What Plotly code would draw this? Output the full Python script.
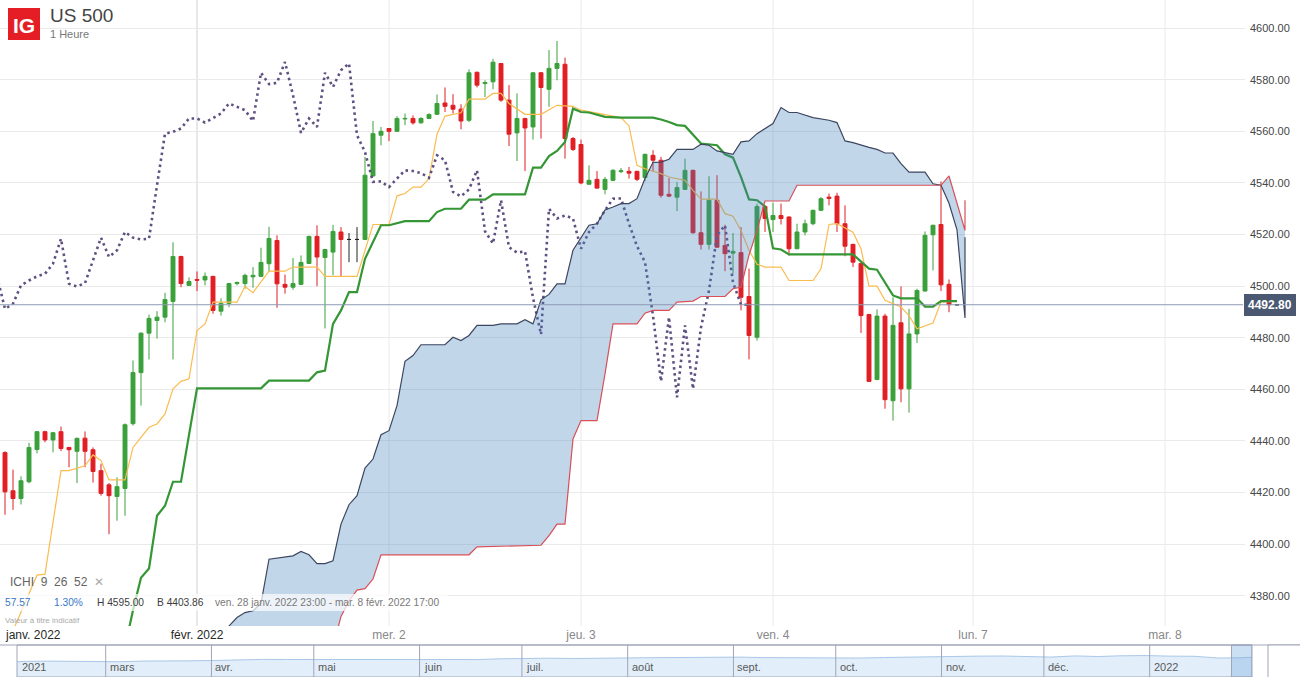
import plotly.graph_objects as go

W, H = 1300, 677

# hourly slots: 0 = lun. 31 janv. 00:00, 24 = mar. 1 févr. 00:00 ...
slots = list(range(120))
opens = [4435.5, 4420.7, 4417.7, 4424.2, 4436.7, 4443.6, 4440.4, 4443.6, 4437.5, 4436.0,
         4441.1, 4436.6, 4428.5, 4423.0, 4418.5, 4421.6, 4446.7, 4466.5, 4481.8, 4486.7,
         4488.0, 4494.1, 4511.5, 4500.3, 4502.6, 4502.4, 4503.8, 4490.3, 4493.3, 4501.0,
         4501.0, 4503.6, 4503.8, 4508.7, 4517.7, 4500.7, 4499.6, 4500.7, 4508.8, 4519.3,
         4511.1, 4513.2, 4521.0, 4518.1, 4518.1, 4518.1, 4542.7, 4558.5, 4561.1, 4560.0,
         4564.8, 4565.0, 4563.3, 4565.0, 4566.6, 4571.0, 4570.1, 4568.6, 4564.3, 4582.9,
         4578.5, 4579.2, 4586.3, 4572.1, 4559.4, 4565.0, 4561.7, 4582.7, 4576.3, 4584.4,
         4586.0, 4557.2, 4554.9, 4539.5, 4541.4, 4537.5, 4541.0, 4544.4, 4544.5, 4544.5,
         4542.1, 4550.7, 4548.8, 4535.6, 4534.5, 4537.5, 4544.9, 4520.7, 4516.2, 4533.3,
         4515.8, 4512.8, 4513.0, 4496.0, 4480.2, 4530.9, 4525.8, 4527.4, 4526.8, 4514.5,
         4521.0, 4524.2, 4529.4, 4534.5, 4534.9, 4524.2, 4516.2, 4508.8, 4489.0, 4463.8,
         4488.4, 4455.6, 4485.8, 4460.2, 4481.5, 4498.1, 4519.9, 4523.9, 4500.7, 4492.8]
highs = [4436.0, 4428.9, 4426.3, 4439.3, 4443.8, 4444.0, 4443.5, 4445.6, 4437.7, 4441.4,
         4443.7, 4437.5, 4431.2, 4423.7, 4425.9, 4446.8, 4471.2, 4482.0, 4489.0, 4490.3,
         4497.4, 4517.0, 4511.8, 4503.4, 4505.7, 4505.3, 4504.0, 4495.3, 4501.2, 4501.8,
         4504.8, 4507.4, 4514.9, 4523.0, 4519.7, 4504.5, 4510.9, 4511.9, 4519.5, 4523.6,
         4514.5, 4523.8, 4522.9, 4520.6, 4522.9, 4550.1, 4564.0, 4561.7, 4561.3, 4565.9,
         4566.9, 4566.2, 4565.5, 4567.0, 4574.3, 4577.0, 4574.4, 4570.5, 4584.0, 4583.1,
         4579.8, 4588.1, 4586.5, 4577.9, 4574.7, 4565.2, 4582.9, 4583.0, 4591.5, 4595.0,
         4588.6, 4557.8, 4556.8, 4546.8, 4544.6, 4542.3, 4545.3, 4545.8, 4546.2, 4544.7,
         4551.3, 4552.7, 4550.1, 4541.9, 4540.4, 4549.4, 4545.1, 4536.7, 4542.6, 4543.0,
         4523.8, 4520.6, 4522.9, 4506.8, 4532.0, 4531.1, 4532.4, 4532.0, 4527.0, 4524.2,
         4525.8, 4529.6, 4534.5, 4535.9, 4536.2, 4531.3, 4516.4, 4509.0, 4489.3, 4491.0,
         4489.3, 4495.7, 4499.9, 4491.2, 4499.0, 4521.2, 4523.8, 4540.6, 4502.6, 4492.8]
lows = [4411.4, 4413.3, 4415.4, 4423.6, 4435.2, 4439.5, 4435.6, 4436.1, 4429.8, 4423.7,
        4429.8, 4423.9, 4418.8, 4403.86, 4409.1, 4411.0, 4446.0, 4453.7, 4471.6, 4479.7,
        4486.0, 4471.6, 4499.6, 4500.1, 4498.1, 4500.3, 4489.3, 4488.6, 4491.9, 4500.3,
        4499.0, 4499.4, 4503.6, 4505.8, 4491.6, 4497.1, 4498.6, 4500.5, 4508.6, 4500.0,
        4483.6, 4504.2, 4503.9, 4509.3, 4509.3, 4518.0, 4542.5, 4554.6, 4556.2, 4559.8,
        4562.4, 4562.6, 4563.0, 4564.8, 4566.4, 4567.5, 4566.9, 4560.8, 4563.6, 4577.0,
        4573.3, 4576.3, 4571.4, 4554.3, 4548.5, 4544.6, 4556.8, 4557.2, 4569.5, 4579.8,
        4549.4, 4552.4, 4539.5, 4539.3, 4537.8, 4535.6, 4540.7, 4543.8, 4541.7, 4540.7,
        4540.7, 4544.6, 4534.3, 4534.5, 4529.1, 4537.3, 4520.3, 4514.2, 4514.2, 4515.0,
        4505.8, 4504.8, 4490.6, 4471.6, 4478.9, 4521.0, 4521.0, 4523.9, 4511.9, 4514.3,
        4519.7, 4523.6, 4529.1, 4531.3, 4521.0, 4511.6, 4507.4, 4481.9, 4462.9, 4463.6,
        4452.5, 4447.9, 4455.0, 4451.0, 4478.0, 4498.0, 4506.1, 4498.1, 4489.9, 4492.8]
closes = [4420.3, 4417.7, 4424.6, 4437.5, 4443.6, 4440.4, 4443.2, 4437.1, 4436.6, 4441.0,
          4436.0, 4428.2, 4419.7, 4418.8, 4422.3, 4446.3, 4466.5, 4481.8, 4487.5, 4488.0,
          4494.8, 4511.5, 4501.0, 4501.8, 4502.3, 4503.8, 4490.6, 4493.3, 4501.0, 4501.4,
          4504.2, 4504.2, 4509.2, 4518.5, 4500.9, 4499.6, 4501.0, 4509.2, 4519.3, 4511.3,
          4514.2, 4521.2, 4518.1, 4518.1, 4518.1, 4543.0, 4559.1, 4560.0, 4560.0, 4565.0,
          4565.0, 4563.3, 4565.0, 4566.5, 4570.8, 4569.7, 4568.6, 4564.0, 4582.7, 4577.9,
          4578.9, 4586.8, 4572.1, 4558.9, 4565.0, 4561.3, 4582.7, 4577.0, 4584.4, 4586.3,
          4557.2, 4553.0, 4540.0, 4541.0, 4538.0, 4541.4, 4544.9, 4544.7, 4543.8, 4541.4,
          4551.1, 4548.8, 4535.2, 4534.9, 4538.2, 4544.9, 4520.7, 4516.2, 4533.3, 4515.1,
          4512.6, 4513.5, 4495.7, 4480.9, 4530.9, 4526.2, 4527.4, 4526.2, 4514.5, 4521.0,
          4524.2, 4529.4, 4533.9, 4534.0, 4524.2, 4515.5, 4509.3, 4488.6, 4463.1, 4488.4,
          4456.0, 4484.8, 4460.2, 4481.5, 4498.3, 4519.7, 4523.6, 4500.5, 4492.8, 4492.8]
doji_slots = [43, 44, 119]
last_price = 4492.80

# Ichimoku 9 26 52 (vertices)
tenkan_x = [0, 1, 4, 5, 7, 8, 10, 11, 12, 13, 15, 16, 18, 19, 20, 21, 22, 23, 24, 25,
            26, 29, 30, 31, 33, 35, 36, 39, 40, 44, 46, 48, 49, 50, 51, 52, 53, 54, 55, 57,
            58, 60, 61, 62, 63, 65, 67, 69, 71, 72, 77, 78, 79, 80, 82, 83, 85, 86, 87, 89,
            90, 91, 92, 93, 94, 95, 97, 98, 101, 102, 103, 104, 106, 107, 108, 109, 110, 112, 113, 114,
            116, 117, 119]
tenkan_y = [4358.0, 4366.5, 4388.0, 4388.4, 4428.5, 4428.5, 4430.4, 4434.6, 4432.4, 4424.9,
            4424.9, 4437.5, 4445.3, 4446.6, 4450.5, 4460.2, 4463.1, 4464.1, 4482.8, 4485.4,
            4493.8, 4493.8, 4499.9, 4497.5, 4505.8, 4505.8, 4507.4, 4507.4, 4503.8, 4503.8,
            4523.9, 4523.9, 4535.0, 4535.9, 4538.4, 4538.4, 4541.7, 4558.9, 4565.9, 4567.2,
            4572.5, 4572.5, 4574.7, 4574.7, 4570.8, 4566.6, 4566.6, 4570.1, 4569.7, 4568.2,
            4565.3, 4562.1, 4546.8, 4545.5, 4543.6, 4542.3, 4541.0, 4537.1, 4533.7, 4533.7,
            4528.1, 4527.1, 4521.6, 4513.9, 4508.5, 4507.4, 4507.4, 4502.2, 4502.2, 4506.7,
            4523.9, 4524.2, 4520.9, 4514.5, 4500.0, 4500.0, 4494.5, 4491.9, 4488.6, 4483.5,
            4485.7, 4493.8, 4494.2]

kijun_x = [15, 16, 17, 18, 19, 20, 21, 22, 24, 32, 33, 38, 39, 40, 41, 42, 43, 44, 45, 47,
           48, 50, 53, 54, 55, 57, 58, 60, 61, 65, 66, 67, 68, 69, 70, 71, 72, 73, 75, 77,
           81, 82, 83, 84, 85, 87, 89, 90, 91, 92, 93, 94, 95, 96, 97, 98, 106, 108, 109, 111,
           112, 114, 115, 116, 117, 119]
kijun_y = [4360.0, 4374.4, 4387.0, 4390.6, 4411.0, 4414.9, 4424.2, 4424.2, 4460.4, 4460.4,
           4463.4, 4463.4, 4466.6, 4467.3, 4485.4, 4490.6, 4497.7, 4497.7, 4510.6, 4523.6,
           4523.6, 4525.2, 4525.2, 4528.7, 4530.0, 4530.0, 4533.5, 4533.5, 4535.6, 4535.6,
           4545.9, 4545.9, 4550.4, 4552.4, 4555.9, 4568.8, 4567.5, 4567.3, 4565.6, 4565.3,
           4565.3, 4564.6, 4563.6, 4562.4, 4562.1, 4555.3, 4554.6, 4551.1, 4549.8, 4542.3,
           4533.6, 4533.3, 4530.9, 4514.7, 4514.2, 4512.3, 4512.3, 4506.8, 4506.4, 4496.4,
           4495.3, 4495.3, 4492.1, 4492.1, 4494.2, 4494.2]

chikou_x = list(range(-1, 94))
chikou_y = [4503.8, 4491.2, 4493.2, 4500.3, 4502.2, 4503.8, 4504.8, 4508.7, 4518.4, 4500.9,
            4499.9, 4501.2, 4510.0, 4518.8, 4511.3, 4513.9, 4521.0, 4518.8, 4518.1, 4518.4,
            4539.1, 4559.1, 4559.8, 4561.1, 4565.0, 4565.0, 4563.4, 4565.0, 4566.9, 4570.8,
            4569.5, 4568.2, 4564.0, 4582.7, 4578.3, 4578.8, 4586.9, 4574.0, 4559.4, 4565.0,
            4561.7, 4582.7, 4577.2, 4583.7, 4586.3, 4558.5, 4552.0, 4540.4, 4540.6, 4538.4,
            4541.7, 4544.9, 4544.6, 4543.8, 4542.0, 4550.7, 4548.8, 4536.5, 4534.8, 4537.5,
            4544.9, 4521.3, 4516.5, 4533.3, 4515.1, 4513.0, 4513.5, 4495.5, 4481.3, 4530.0,
            4526.2, 4527.4, 4526.2, 4514.5, 4521.0, 4524.2, 4529.4, 4533.9, 4534.0, 4524.2,
            4515.5, 4509.3, 4488.6, 4463.1, 4488.0, 4456.9, 4484.8, 4460.2, 4484.0, 4498.3,
            4519.7, 4523.6, 4501.5, 4492.8, 4492.8]

senkou_a_x = [27, 28, 29, 30, 31, 32, 33, 36, 37, 38, 39, 40, 41, 42, 43, 44, 45, 46, 47, 48,
              49, 50, 51, 52, 55, 56, 57, 58, 59, 61, 62, 64, 65, 66, 67, 68, 69, 70, 71, 72,
              73, 74, 75, 76, 77, 78, 79, 80, 81, 82, 83, 84, 86, 87, 88, 89, 90, 91, 92, 93,
              94, 96, 97, 98, 99, 101, 103, 104, 105, 106, 108, 109, 110, 111, 112, 113, 115, 116, 117, 118,
              119, 120, 120]
senkou_a_y = [4362.0, 4368.3, 4371.6, 4373.5, 4374.2, 4377.0, 4394.2, 4395.5, 4397.2, 4395.9,
              4392.5, 4392.5, 4393.6, 4407.8, 4415.3, 4418.8, 4429.5, 4433.0, 4442.4, 4444.0,
              4453.7, 4470.9, 4473.1, 4477.3, 4477.3, 4480.2, 4478.9, 4480.9, 4484.8, 4484.8,
              4485.4, 4485.4, 4487.0, 4485.4, 4494.7, 4496.8, 4500.9, 4500.9, 4513.9, 4519.0,
              4523.6, 4524.2, 4529.5, 4530.7, 4532.0, 4532.0, 4533.9, 4541.7, 4548.0, 4548.1,
              4549.2, 4553.0, 4553.0, 4555.0, 4554.6, 4552.4, 4551.7, 4551.1, 4555.9, 4556.3,
              4559.1, 4563.0, 4569.2, 4567.3, 4567.3, 4565.3, 4564.3, 4563.4, 4556.3, 4555.6,
              4553.8, 4553.0, 4551.6, 4551.6, 4547.5, 4544.2, 4544.2, 4539.7, 4539.1, 4532.1,
              4521.8, 4487.7, 4519.0]

senkou_b_x = [41, 42, 43, 44, 45, 46, 47, 58, 59, 67, 68, 69, 70, 71, 72, 74, 75, 76, 79, 80,
              81, 83, 84, 86, 87, 90, 91, 92, 93, 94, 95, 98, 99, 117, 118, 119, 120, 120]
senkou_b_y = [4360.0, 4372.0, 4378.0, 4382.2, 4382.8, 4386.5, 4395.9, 4395.9, 4399.0, 4399.6,
              4403.3, 4407.8, 4407.8, 4440.8, 4447.9, 4447.9, 4466.0, 4485.4, 4485.4, 4489.5,
              4490.6, 4490.6, 4493.8, 4494.2, 4496.0, 4496.0, 4499.0, 4499.6, 4512.0, 4521.6,
              4533.0, 4533.0, 4539.1, 4539.1, 4542.7, 4532.0, 4521.6, 4533.3]

day_ticks = [24, 48, 72, 96, 121, 145]
day_labels = ["févr. 2022", "mer. 2", "jeu. 3", "ven. 4", "lun. 7", "mar. 8"]

# navigator (daily closes, sampled weekly)
nav_dates = ["2021-02-03", "2021-02-05", "2021-02-12", "2021-02-19", "2021-02-26", "2021-03-05",
             "2021-03-12", "2021-03-19", "2021-03-26", "2021-04-01", "2021-04-09", "2021-04-16",
             "2021-04-23", "2021-04-30", "2021-05-07", "2021-05-14", "2021-05-21", "2021-05-28",
             "2021-06-04", "2021-06-11", "2021-06-18", "2021-06-25", "2021-07-02", "2021-07-09",
             "2021-07-16", "2021-07-23", "2021-07-30", "2021-08-06", "2021-08-13", "2021-08-20",
             "2021-08-27", "2021-09-03", "2021-09-10", "2021-09-17", "2021-09-24", "2021-10-01",
             "2021-10-08", "2021-10-15", "2021-10-22", "2021-10-29", "2021-11-05", "2021-11-12",
             "2021-11-19", "2021-11-26", "2021-12-03", "2021-12-10", "2021-12-17", "2021-12-23",
             "2021-12-31", "2022-01-07", "2022-01-14", "2022-01-21", "2022-01-25", "2022-01-28",
             "2022-01-31"]
nav_values = [3830, 3887, 3934, 3907, 3811, 3841, 3943, 3913, 3975, 4020, 4129, 4185, 4180,
              4181, 4232, 4174, 4156, 4204, 4230, 4247, 4166, 4281, 4352, 4370, 4327, 4412,
              4395, 4437, 4468, 4441, 4509, 4535, 4459, 4433, 4455, 4357, 4391, 4471, 4545,
              4605, 4697, 4682, 4698, 4595, 4538, 4712, 4620, 4725, 4766, 4677, 4662, 4398,
              4356, 4432, 4515]
month_starts = ["2021-03-01", "2021-04-01", "2021-05-01", "2021-06-01", "2021-07-01", "2021-08-01",
                "2021-09-01", "2021-10-01", "2021-11-01", "2021-12-01", "2022-01-01"]
month_labels = ["mars", "avr.", "mai", "juin", "juil.", "août", "sept.", "oct.", "nov.", "déc.", "2022"]

GREEN = "rgb(58,160,58)"
RED = "rgb(224,30,36)"
FONT = "Liberation Sans, Arial, sans-serif"


def px(x):
    return x / W


def py(y):
    return 1 - y / H


keep = [i for i in slots if i not in doji_slots]
fig = go.Figure()

fig.add_trace(go.Candlestick(
    x=[slots[i] for i in keep], open=[opens[i] for i in keep], high=[highs[i] for i in keep],
    low=[lows[i] for i in keep], close=[closes[i] for i in keep],
    increasing=dict(line=dict(color=GREEN, width=1), fillcolor=GREEN),
    decreasing=dict(line=dict(color=RED, width=1), fillcolor=RED),
    whiskerwidth=0, hoverinfo="skip", showlegend=False))
fig.add_trace(go.Candlestick(
    x=doji_slots, open=[opens[i] for i in doji_slots], high=[highs[i] for i in doji_slots],
    low=[lows[i] for i in doji_slots], close=[closes[i] for i in doji_slots],
    increasing=dict(line=dict(color="#222", width=1), fillcolor="#222"),
    decreasing=dict(line=dict(color="#222", width=1), fillcolor="#222"),
    whiskerwidth=0, hoverinfo="skip", showlegend=False))

# lines
fig.add_trace(go.Scatter(x=tenkan_x, y=tenkan_y, mode="lines",
                         line=dict(color="rgb(250,188,80)", width=1.2), hoverinfo="skip"))
fig.add_trace(go.Scatter(x=kijun_x, y=kijun_y, mode="lines",
                         line=dict(color="rgb(52,150,52)", width=2.2), hoverinfo="skip"))
fig.add_trace(go.Scatter(x=chikou_x, y=chikou_y, mode="lines",
                         line=dict(color="rgb(95,80,130)", width=2.6, dash="2.5px,3.5px"),
                         hoverinfo="skip"))
# cloud
fig.add_trace(go.Scatter(x=senkou_a_x, y=senkou_a_y, mode="lines",
                         line=dict(color="rgb(60,70,95)", width=1.2), hoverinfo="skip"))
fig.add_trace(go.Scatter(x=senkou_b_x, y=senkou_b_y, mode="lines", fill="tonexty",
                         fillcolor="rgba(70,130,190,0.33)",
                         line=dict(color="rgb(215,80,90)", width=1.2), hoverinfo="skip"))

# navigator
fig.add_trace(go.Scatter(x=nav_dates, y=nav_values, mode="lines", fill="tozeroy",
                         fillcolor="rgb(226,238,249)", line=dict(color="rgb(170,200,232)", width=1),
                         xaxis="x2", yaxis="y2", hoverinfo="skip"))

shapes = []
main_bottom = py(626)
for t in day_ticks:
    shapes.append(dict(type="line", xref="x", yref="paper", x0=t, x1=t, y0=main_bottom, y1=1,
                       line=dict(color="rgb(208,208,212)" if t == 24 else "rgb(234,234,234)", width=1),
                       layer="below"))
# current price line
shapes.append(dict(type="line", xref="paper", yref="y", x0=0, x1=px(1243), y0=last_price, y1=last_price,
                   line=dict(color="rgb(140,155,180)", width=1)))
# white band behind the info row
shapes.append(dict(type="rect", xref="paper", yref="paper", x0=0, x1=px(448), y0=py(611), y1=py(594),
                   fillcolor="rgba(255,255,255,0.7)", line=dict(width=0)))
# logo
shapes.append(dict(type="rect", xref="paper", yref="paper", x0=px(8), x1=px(40), y0=py(40), y1=py(8),
                   fillcolor="rgb(228,30,36)", line=dict(width=0)))
# navigator frame, month dividers, selection
nav_top = py(645)
shapes.append(dict(type="rect", xref="paper", yref="paper", x0=px(17), x1=px(1252), y0=0, y1=nav_top,
                   line=dict(color="rgb(160,164,184)", width=1)))
shapes.append(dict(type="line", xref="paper", yref="paper", x0=0, x1=1, y0=nav_top, y1=nav_top,
                   line=dict(color="rgb(160,164,184)", width=1)))
for m in month_starts:
    shapes.append(dict(type="line", xref="x2", yref="paper", x0=m, x1=m, y0=0, y1=nav_top,
                       line=dict(color="rgb(160,164,184)", width=1)))
shapes.append(dict(type="rect", xref="x2", yref="paper", x0="2022-01-25", x1="2022-01-31", y0=0, y1=nav_top,
                   fillcolor="rgba(110,165,220,0.35)", line=dict(color="rgb(160,164,184)", width=1)))
shapes.append(dict(type="rect", xref="paper", yref="paper", x0=px(1268), x1=px(1301), y0=-0.01, y1=nav_top,
                   fillcolor="white", line=dict(color="rgb(160,164,184)", width=1)))

ann = []


def text(x, y, s, size, color, anchor="left", bold=False):
    ann.append(dict(x=px(x), y=py(y), xref="paper", yref="paper", text=f"<b>{s}</b>" if bold else s,
                    showarrow=False, xanchor=anchor, yanchor="middle",
                    font=dict(size=size, color=color, family=FONT)))


text(24, 25, "IG", 21, "white", anchor="center", bold=True)
text(48, 16, "US 500", 19, "rgb(68,68,68)")
text(48, 34, "1 Heure", 11, "rgb(120,120,120)")
text(8, 582, "ICHI\u00a0 9\u00a0 26\u00a0 52\u00a0 <span style='color:#aaa'>✕</span>", 12, "rgb(100,100,100)")
text(3, 602, "57.57", 10.2, "rgb(55,120,200)")
text(52, 602, "1.30%", 10.2, "rgb(55,120,200)")
text(95, 602, "H 4595.00", 10.2, "rgb(60,60,60)")
text(155, 602, "B 4403.86", 10.2, "rgb(60,60,60)")
text(213, 602, "ven. 28 janv. 2022 23:00 - mar. 8 févr. 2022 17:00", 10.2, "rgb(120,120,120)")
text(3, 620, "Valeur à titre indicatif", 8, "rgb(170,170,170)")
text(3, 635, "janv. 2022", 12, "rgb(40,40,40)")

# current price tag
ann.append(dict(x=px(1270), y=last_price, xref="paper", yref="y", text=f"<b>{last_price:.2f}</b>",
                showarrow=False, xanchor="center", yanchor="middle", bgcolor="rgb(74,88,114)",
                bordercolor="rgb(74,88,114)", borderpad=3,
                font=dict(size=12, color="white", family=FONT)))

# navigator labels
ann.append(dict(x="2021-02-03", y=py(667), xref="x2", yref="paper", text="2021", showarrow=False,
                xanchor="left", xshift=3, yanchor="middle", font=dict(size=11, color="rgb(90,90,90)", family=FONT)))
for m, lab in zip(month_starts, month_labels):
    ann.append(dict(x=m, y=py(667), xref="x2", yref="paper", text=lab, showarrow=False,
                    xanchor="left", xshift=2, yanchor="middle",
                    font=dict(size=11, color="rgb(90,90,90)", family=FONT)))

tick_text = []
for lab in day_labels:
    col = "#282828" if "2022" in lab else "#888"
    tick_text.append(f"<span style='color:{col}'>{lab}</span>")

fig.update_layout(
    width=W, height=H, margin=dict(l=0, r=0, t=0, b=0),
    paper_bgcolor="white", plot_bgcolor="white", showlegend=False,
    font=dict(family=FONT),
    xaxis=dict(domain=[0, px(1245)], range=[-0.625, 155], rangeslider=dict(visible=False),
               tickvals=day_ticks, ticktext=tick_text, showgrid=False, zeroline=False,
               showline=False, ticks="", tickfont=dict(size=12, color="#888"), anchor="y"),
    yaxis=dict(domain=[main_bottom, 1], range=[4368.3, 4610.9], side="right", dtick=20, tick0=4380,
               tickformat=".2f", gridcolor="rgb(234,234,234)", zeroline=False, showline=False,
               ticks="", ticklabelstandoff=4, tickfont=dict(size=11, color="rgb(70,70,70)"),
               anchor="x"),
    xaxis2=dict(domain=[px(17), px(1252)], range=["2021-02-03", "2022-01-31"], visible=False,
                anchor="y2"),
    yaxis2=dict(domain=[0, py(645)], range=[1550, 6350], visible=False, anchor="x2"),
    shapes=shapes, annotations=ann,
)

# page body has a default 8px margin; remove it so the figure sits at the window corner
fig.write_html("out.html", config={"displayModeBar": False},
               post_script="document.body.style.margin='0px';")
